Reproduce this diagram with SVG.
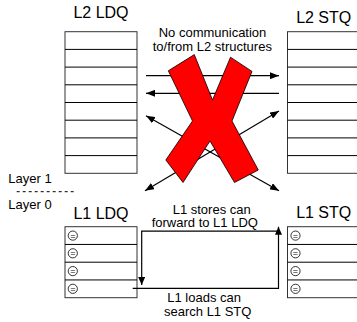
<svg xmlns="http://www.w3.org/2000/svg" width="357" height="322" viewBox="0 0 357 322">
<style>
text{font-family:"Liberation Sans",Arial,sans-serif;fill:#000}
.title{font-size:16px;text-anchor:middle}
.lbl{font-size:13px}
.mid{text-anchor:middle}
.box{fill:#fff;stroke:#333;stroke-width:1}
.row{stroke:#000;stroke-width:1}
.eq{fill:#fff;stroke:#000;stroke-width:0.8}
.eqt{font-size:9px;text-anchor:middle}
.conn{fill:none;stroke:#000;stroke-width:1.2}
</style>
<defs>
<marker id="ah" viewBox="0 0 9 7" refX="9" refY="3.5" markerWidth="9" markerHeight="7" markerUnits="userSpaceOnUse" orient="auto-start-reverse" preserveAspectRatio="none">
<path d="M0,0 L9,3.5 L0,7 z" fill="#000"/>
</marker>
<marker id="ahs" viewBox="0 0 8 7" refX="8" refY="3.5" markerWidth="8" markerHeight="7" markerUnits="userSpaceOnUse" orient="auto-start-reverse" preserveAspectRatio="none">
<path d="M0,0 L8,3.5 L0,7 z" fill="#000"/>
</marker>
</defs>
<rect width="357" height="322" fill="#fff"/>

<g id="l2ldq">
<text class="title" x="101" y="18.3">L2 LDQ</text>
<rect class="box" x="65" y="31.7" width="72" height="141.6"/>
<path class="row" d="M65,49.4H137M65,67.1H137M65,84.8H137M65,102.5H137M65,120.2H137M65,137.9H137M65,155.6H137"/>
</g>

<g id="l2stq">
<text class="title" x="323.7" y="23.3">L2 STQ</text>
<rect class="box" x="287.5" y="31.7" width="80" height="141.6"/>
<path class="row" d="M287.5,49.4H357M287.5,67.1H357M287.5,84.8H357M287.5,102.5H357M287.5,120.2H357M287.5,137.9H357M287.5,155.6H357"/>
</g>

<g id="l1ldq">
<text class="title" x="101" y="219.3">L1 LDQ</text>
<rect class="box" x="65" y="226.7" width="72" height="71"/>
<path class="row" d="M65,244.45H137M65,262.2H137M65,279.95H137"/>
<circle class="eq" cx="72.8" cy="235.6" r="4.6"/><text class="eqt" x="72.8" y="238.6">=</text>
<circle class="eq" cx="72.8" cy="253.3" r="4.6"/><text class="eqt" x="72.8" y="256.3">=</text>
<circle class="eq" cx="72.8" cy="271.1" r="4.6"/><text class="eqt" x="72.8" y="274.1">=</text>
<circle class="eq" cx="72.8" cy="288.8" r="4.6"/><text class="eqt" x="72.8" y="291.8">=</text>
</g>

<g id="l1stq">
<text class="title" x="323.7" y="217.5">L1 STQ</text>
<rect class="box" x="287.5" y="226.7" width="80" height="71"/>
<path class="row" d="M287.5,244.45H357M287.5,262.2H357M287.5,279.95H357"/>
<circle class="eq" cx="295.5" cy="235.6" r="4.6"/><text class="eqt" x="295.5" y="238.6">=</text>
<circle class="eq" cx="295.5" cy="253.3" r="4.6"/><text class="eqt" x="295.5" y="256.3">=</text>
<circle class="eq" cx="295.5" cy="271.1" r="4.6"/><text class="eqt" x="295.5" y="274.1">=</text>
<circle class="eq" cx="295.5" cy="288.8" r="4.6"/><text class="eqt" x="295.5" y="291.8">=</text>
</g>

<g id="layers">
<text class="lbl" x="8.3" y="183.3">Layer 1</text>
<line x1="16.7" y1="191.7" x2="75" y2="191.7" stroke="#000" stroke-width="1" stroke-dasharray="3,3"/>
<text class="lbl" x="8.3" y="208.5">Layer 0</text>
</g>

<g id="connectors">
<line class="conn" x1="146" y1="75.7" x2="279" y2="75.7" marker-end="url(#ah)"/>
<line class="conn" x1="279" y1="93.3" x2="146" y2="93.3" marker-end="url(#ah)"/>
<line class="conn" x1="146" y1="115.7" x2="279" y2="190.7" marker-start="url(#ah)" marker-end="url(#ah)"/>
<line class="conn" x1="279" y1="111" x2="145" y2="190.7" marker-start="url(#ah)" marker-end="url(#ah)"/>
<path class="conn" d="M277.5,231.2H141.7V285" marker-end="url(#ahs)"/>
<path class="conn" d="M132.7,288.3H278.5V226.7" marker-end="url(#ahs)"/>
</g>

<g id="nocomm">
<text class="lbl mid" x="212.5" y="37.3">No communication</text>
<text class="lbl mid" x="212.3" y="51.3">to/from L2 structures</text>
<polygon points="168.3,70.8 194.3,54.6 212.5,100 230.5,57.2 252,71.4 232,121 258.3,170 234.5,182.5 210,141 183,182.5 165.8,160 192.5,121" fill="#ff0000" stroke="#000" stroke-width="0.8" stroke-linejoin="miter"/>
</g>

<g id="l1labels">
<text class="lbl" x="172.7" y="213.6">L1 stores can</text>
<text class="lbl" x="151.7" y="227.4">forward to L1 LDQ</text>
<text class="lbl" x="167.3" y="302">L1 loads can</text>
<text class="lbl" x="164" y="315.5">search L1 STQ</text>
</g>
</svg>
